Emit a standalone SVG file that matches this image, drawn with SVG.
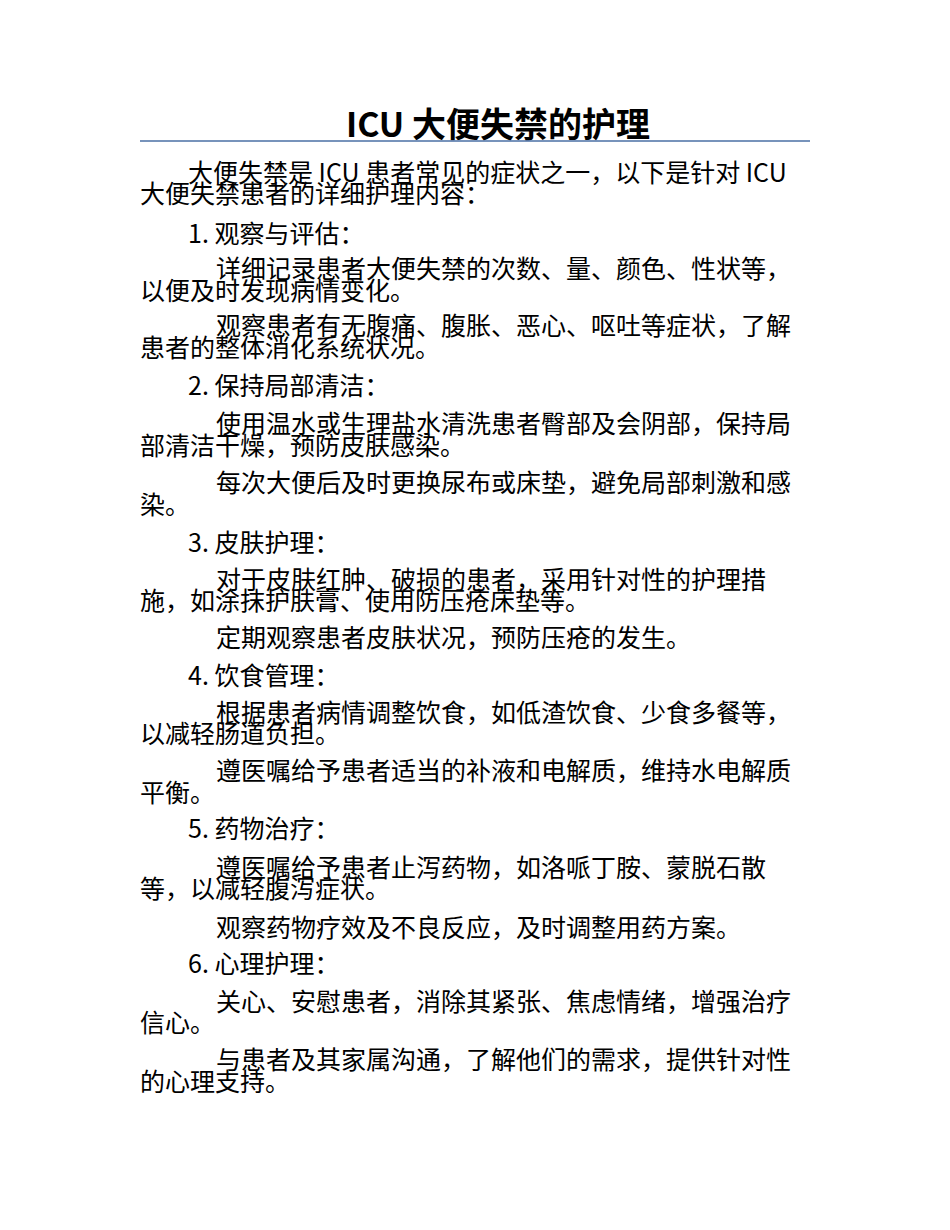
<svg xmlns="http://www.w3.org/2000/svg" width="950" height="1230" viewBox="0 0 950 1230">
<style>
text{font-family:"Noto Sans CJK SC","Noto Sans",sans-serif;font-size:25px;fill:#000}
.t{font-size:34px;font-weight:bold}
</style>
<rect width="950" height="1230" fill="#fff"/>
<text class="t" x="498" y="137" text-anchor="middle">ICU 大便失禁的护理</text>
<line x1="140" y1="141" x2="810" y2="141" stroke="#4a6fa5" stroke-width="1.5"/>
<text x="188" y="182">大便失禁是 ICU 患者常见的症状之一，以下是针对 ICU</text>
<text x="140" y="203">大便失禁患者的详细护理内容：</text>
<text x="188" y="243">1. 观察与评估：</text>
<text x="216" y="278">详细记录患者大便失禁的次数、量、颜色、性状等，</text>
<text x="140" y="300">以便及时发现病情变化。</text>
<text x="216" y="335">观察患者有无腹痛、腹胀、恶心、呕吐等症状，了解</text>
<text x="140" y="357">患者的整体消化系统状况。</text>
<text x="188" y="395">2. 保持局部清洁：</text>
<text x="216" y="433">使用温水或生理盐水清洗患者臀部及会阴部，保持局</text>
<text x="140" y="455">部清洁干燥，预防皮肤感染。</text>
<text x="216" y="492">每次大便后及时更换尿布或床垫，避免局部刺激和感</text>
<text x="140" y="514">染。</text>
<text x="188" y="552">3. 皮肤护理：</text>
<text x="216" y="589">对于皮肤红肿、破损的患者，采用针对性的护理措</text>
<text x="140" y="610">施，如涂抹护肤膏、使用防压疮床垫等。</text>
<text x="216" y="647">定期观察患者皮肤状况，预防压疮的发生。</text>
<text x="188" y="685">4. 饮食管理：</text>
<text x="216" y="722">根据患者病情调整饮食，如低渣饮食、少食多餐等，</text>
<text x="140" y="743">以减轻肠道负担。</text>
<text x="216" y="780">遵医嘱给予患者适当的补液和电解质，维持水电解质</text>
<text x="140" y="802">平衡。</text>
<text x="188" y="838">5. 药物治疗：</text>
<text x="216" y="877">遵医嘱给予患者止泻药物，如洛哌丁胺、蒙脱石散</text>
<text x="140" y="898">等，以减轻腹泻症状。</text>
<text x="216" y="937">观察药物疗效及不良反应，及时调整用药方案。</text>
<text x="188" y="973">6. 心理护理：</text>
<text x="216" y="1011">关心、安慰患者，消除其紧张、焦虑情绪，增强治疗</text>
<text x="140" y="1032">信心。</text>
<text x="216" y="1069">与患者及其家属沟通，了解他们的需求，提供针对性</text>
<text x="140" y="1091">的心理支持。</text>
</svg>
